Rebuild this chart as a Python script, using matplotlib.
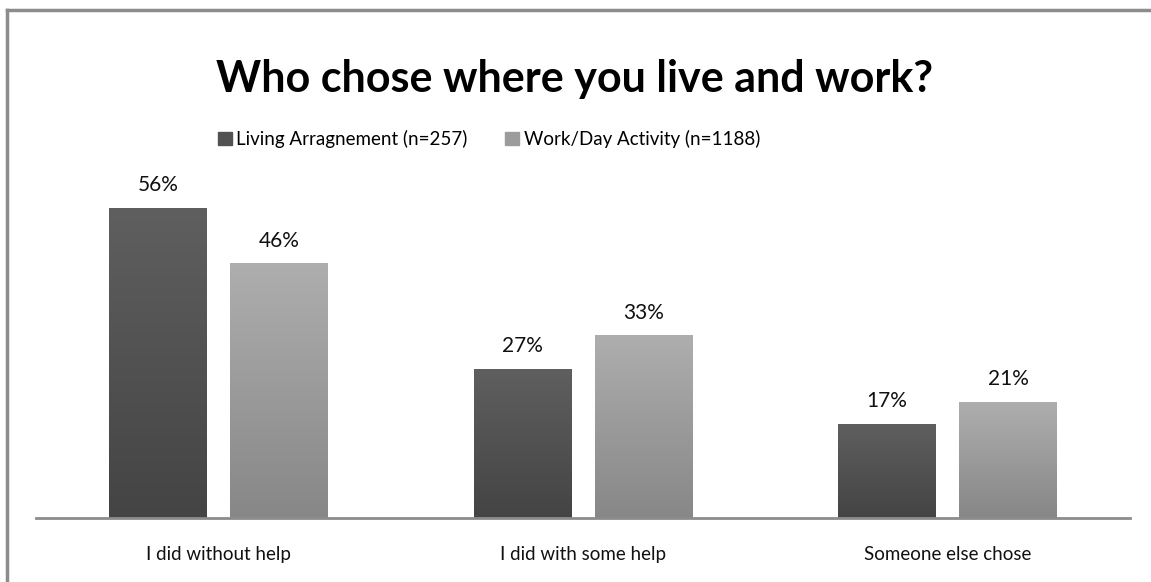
import numpy as np
import matplotlib
matplotlib.use("Agg")
import matplotlib.pyplot as plt
from matplotlib.colors import LinearSegmentedColormap
from matplotlib.patches import Rectangle
from matplotlib.lines import Line2D

plt.rcParams['font.family'] = ['Lato', 'DejaVu Sans']

# survey answers, percent of respondents
categories = ['I did without help', 'I did with some help', 'Someone else chose']
living = [56, 27, 17]
work = [46, 33, 21]
series_names = ['Living Arragnement (n=257)', 'Work/Day Activity (n=1188)']

W, H = 1151, 582
fig = plt.figure(figsize=(W / 100, H / 100), dpi=100)

# plot area in pixel terms
left, right = 36, 1130
base, top = 518, 186
ax = fig.add_axes([left / W, 1 - base / H, (right - left) / W, (base - top) / H])

x = np.arange(len(categories))
width = 0.268
offset = 0.166

# vertical gradients, lighter at the top
dark_cmap = LinearSegmentedColormap.from_list('dark', ['#444444', '#5f5f5f'])
light_cmap = LinearSegmentedColormap.from_list('light', ['#878787', '#aeaeae'])
grad = np.linspace(0, 1, 256).reshape(-1, 1)

for vals, dx, cmap in [(living, -offset, dark_cmap), (work, offset, light_cmap)]:
    bars = ax.bar(x + dx, vals, width, color='none', edgecolor='none')
    for b, v in zip(bars, vals):
        x0, w = b.get_x(), b.get_width()
        im = ax.imshow(grad, extent=[x0, x0 + w, 0, v], origin='lower', cmap=cmap,
                       aspect='auto', zorder=2)
        im.set_clip_path(b)
        ax.text(x0 + w / 2, v + 2.3, f'{v}%', ha='center', va='bottom',
                fontsize=15, color='#111111')

ax.set_xlim(-0.5, 2.5)
ax.set_ylim(0, 60)
for s in ['top', 'right', 'left']:
    ax.spines[s].set_visible(False)
ax.spines['bottom'].set_color('#8c8c8c')
ax.spines['bottom'].set_linewidth(2)
ax.set_yticks([])
ax.set_xticks(x)
ax.set_xticklabels(categories, fontsize=13.5, color='#111111')
ax.tick_params(axis='x', length=0, pad=20)

fig.text(575 / W, 1 - 79 / H, 'Who chose where you live and work?', ha='center',
         va='center', fontsize=31, fontweight='bold', color='#000000')

handles = [Rectangle((0, 0), 1, 1, color='#525252'), Rectangle((0, 0), 1, 1, color='#9c9c9c')]
fig.legend(handles, series_names, loc='center', bbox_to_anchor=(489 / W, 1 - 139 / H),
           ncol=2, frameon=False, fontsize=13.5, handlelength=0.75, handleheight=0.75,
           handletextpad=0.25, columnspacing=2.0)

# top and left frame lines of the chart area
fig.add_artist(Line2D([7 / W, 1], [1 - 10 / H, 1 - 10 / H], color='#8c8c8c', lw=2.5))
fig.add_artist(Line2D([7 / W, 7 / W], [0, 1 - 10 / H], color='#8c8c8c', lw=2.5))

fig.savefig('out.png', dpi=100)
